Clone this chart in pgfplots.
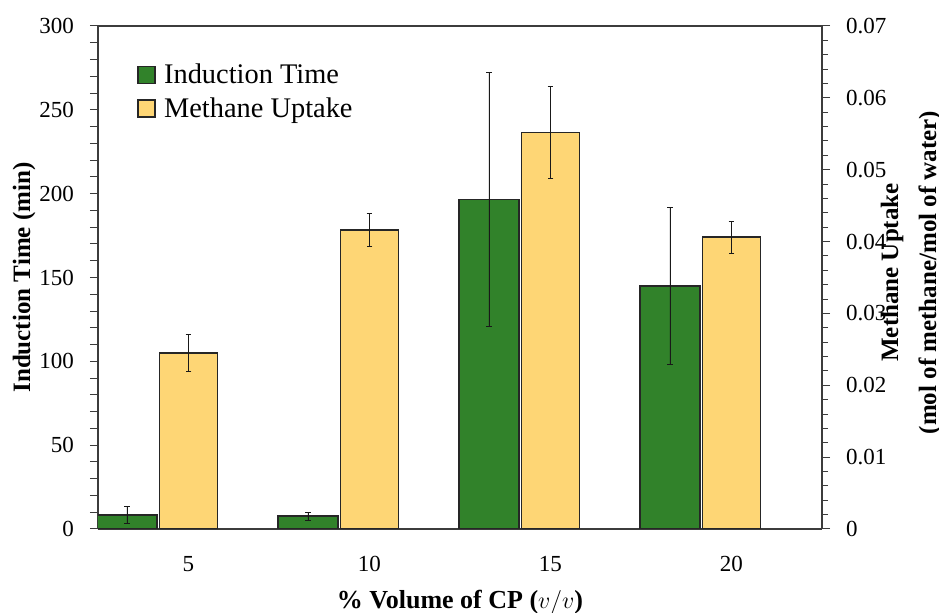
\documentclass[border=0pt]{standalone}
\usepackage{pgfplots}
\pgfplotsset{compat=1.18}
\usepackage{fontspec}
\setmainfont{Liberation Serif}
\definecolor{igreen}{RGB}{49,130,42}
\definecolor{myellow}{RGB}{254,214,117}
\definecolor{axgray}{RGB}{60,60,60}
\begin{document}
\begin{tikzpicture}
\pgfplotsset{
  common/.style={
    width=362pt, height=251.5pt, scale only axis,
    xmin=-0.5, xmax=3.5,
    axis line style={axgray, line width=0.6pt},
    tick style={axgray, line width=0.5pt},
    tick align=outside,
    /pgf/number format/assume math mode=true,
    tick label style={font=\fontsize{11.5}{13}\selectfont},
    scaled y ticks=false,
  }
}
\begin{axis}[common, name=ax1,
  ybar,
  ymin=0, ymax=300, ytick={0,50,100,150,200,250,300}, minor y tick num=4,
  major tick length=4pt, minor tick length=4pt,
  axis y line*=left,
  xtick={0,1,2,3}, xticklabels={5,10,15,20},
  x tick style={draw=none},
  xticklabel style={yshift=-6pt},
  yticklabel style={xshift=-4.5pt},
  ylabel={Induction Time (min)},
  ylabel style={at={(axis description cs:-0.102,0.5)}, anchor=center, inner sep=1pt, font=\bfseries\fontsize{12.5}{15}\selectfont},
  xlabel={\% Volume of CP ($v/v$)},
  xlabel style={at={(axis description cs:0.5,-0.145)}, anchor=center, inner sep=1pt, font=\bfseries\fontsize{13}{15}\selectfont},
]
\addplot[ybar, bar width=0.332, bar shift=-0.34, fill=igreen, draw=black!85, line width=0.8pt,
  error bars/.cd, y dir=both, y explicit,
  error bar style={black!90, line width=0.45pt},
  error mark options={rotate=90, mark size=1.4pt, black!90, line width=0.45pt}]
  coordinates {(0,8.2) +- (0,5.1) (1,7.6) +- (0,2.4) (2,196.5) +- (0,76) (3,145) +- (0,47)};
\end{axis}
\begin{axis}[common, name=ax2,
  ybar,
  ymin=0, ymax=0.07,
  ytick={0,0.01,0.02,0.03,0.04,0.05,0.06,0.07},
  yticklabels={0,0.01,0.02,0.03,0.04,0.05,0.06,0.07},
  yticklabel style={xshift=4.5pt},
  minor y tick num=4,
  major tick length=4pt, minor tick length=3pt,
  axis y line*=right, axis x line=none,
  ylabel={Methane Uptake\\(mol of methane/mol of water)},
  ylabel style={at={(axis description cs:1.123,0.51)}, anchor=center, align=center, inner sep=1pt, font=\bfseries\fontsize{12.5}{19}\selectfont},
  legend style={at={(axis description cs:0.054,0.93)}, anchor=north west, draw=none, fill=none,
    font=\fontsize{14.2}{16}\selectfont, row sep=3.5pt, inner sep=0pt,
    nodes={inner sep=1pt, anchor=west},
    /tikz/every odd column/.append style={column sep=3pt}},
  legend cell align=left,
  legend image code/.code={\draw[#1] (0pt,-4.25pt) rectangle (8.5pt,4.25pt);},
]
\addlegendimage{fill=igreen, draw=black!85, line width=0.8pt}
\addlegendentry{Induction Time}
\addplot[ybar, bar width=0.32, bar shift=0, fill=myellow, draw=black!85, line width=0.8pt,
  error bars/.cd, y dir=both, y explicit,
  error bar style={black!90, line width=0.45pt},
  error mark options={rotate=90, mark size=1.4pt, black!90, line width=0.45pt}]
  coordinates {(0,0.0245) +- (0,0.0026) (1,0.0416) +- (0,0.0023) (2,0.0552) +- (0,0.0064) (3,0.0406) +- (0,0.00225)};
\addlegendentry{Methane Uptake}
\end{axis}
\pgfresetboundingbox
\path[use as bounding box] ([shift={(-49pt,-42pt)}]ax1.south west) rectangle ([shift={(58.5pt,13pt)}]ax1.north east);
\end{tikzpicture}
\end{document}
